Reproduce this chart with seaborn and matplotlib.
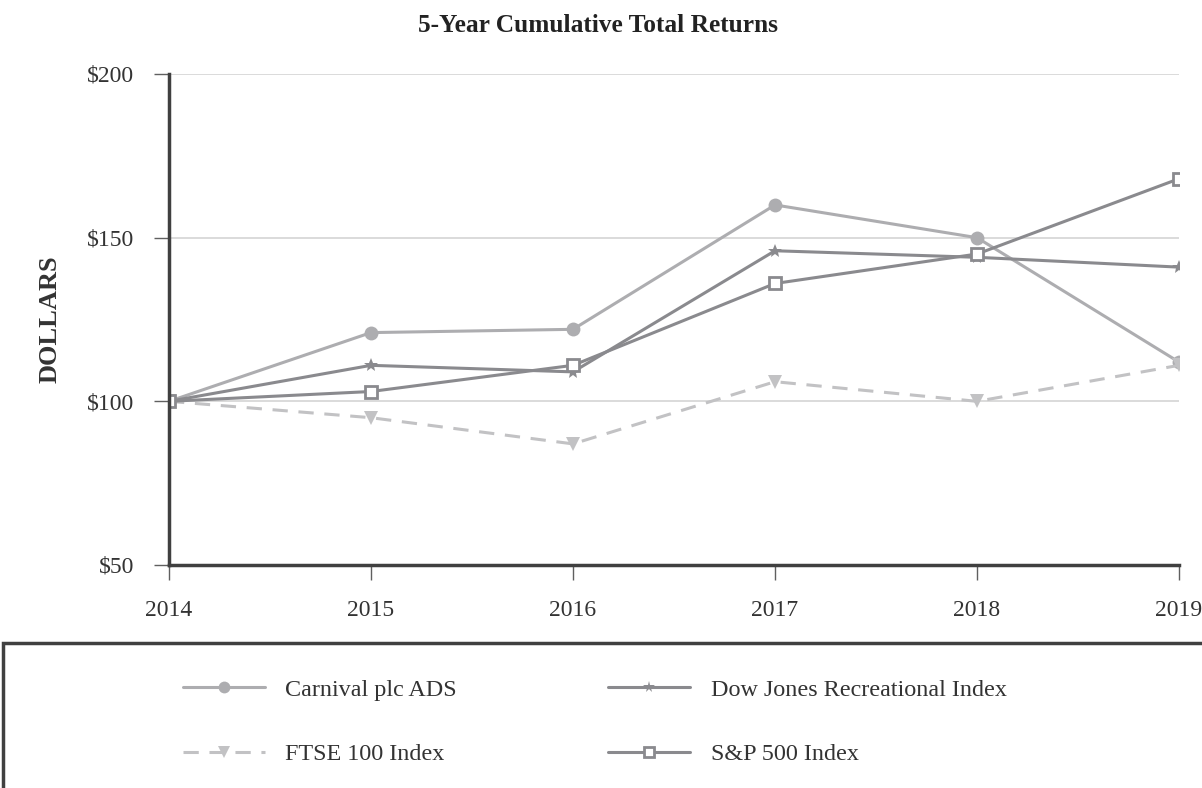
import matplotlib
matplotlib.use("Agg")
import matplotlib.pyplot as plt
import seaborn as sns
import pandas as pd
from matplotlib.patches import Rectangle

years = [2014, 2015, 2016, 2017, 2018, 2019]
carnival = [100, 121, 122, 160, 150, 112]
dow_jones = [100, 111, 109, 146, 144, 141]
ftse = [100, 95, 87, 106, 100, 111]
sp500 = [100, 103, 111, 136, 145, 168]
series_names = ["Carnival plc ADS", "Dow Jones Recreational Index", "FTSE 100 Index", "S&P 500 Index"]
y_ticks = [50, 100, 150, 200]

sns.set_theme(style="white")
plt.rcParams["font.family"] = ["Liberation Serif", "DejaVu Serif"]

rows = []
for name, vals in zip(series_names, [carnival, dow_jones, ftse, sp500]):
    for yr, v in zip(years, vals):
        rows.append({"Year": yr, "Value": v, "Series": name})
df = pd.DataFrame(rows)

palette = {
    "Carnival plc ADS": "#adadb0",
    "Dow Jones Recreational Index": "#8a8a8e",
    "FTSE 100 Index": "#c2c2c4",
    "S&P 500 Index": "#8a8a8e",
}
markers = {
    "Carnival plc ADS": "o",
    "Dow Jones Recreational Index": "*",
    "FTSE 100 Index": "v",
    "S&P 500 Index": "s",
}
dashes = {
    "Carnival plc ADS": "",
    "Dow Jones Recreational Index": "",
    "FTSE 100 Index": (5, 3.5),
    "S&P 500 Index": "",
}

fig = plt.figure(figsize=(12.02, 7.88), dpi=100)
ax = fig.add_axes([169 / 1202, 1 - 565 / 788, (1179 - 169) / 1202, (565 - 74) / 788])

for name in series_names:
    sub = df[df["Series"] == name]
    kw = dict(color=palette[name], marker=markers[name], linewidth=2.2, label=name)
    if name == "S&P 500 Index":
        kw.update(markerfacecolor="white", markeredgecolor=palette[name], markeredgewidth=2, markersize=9)
    elif name == "Dow Jones Recreational Index":
        kw.update(markersize=10, markeredgewidth=0)
    elif name == "FTSE 100 Index":
        kw.update(markersize=10, markeredgewidth=0, dashes=dashes[name])
    else:
        kw.update(markersize=10, markeredgewidth=0)
    sns.lineplot(data=sub, x="Year", y="Value", ax=ax, legend=False, **kw)

ax.set_xlim(2014, 2019)
ax.set_ylim(50, 200)
ax.set_yticks(y_ticks)
ax.set_yticklabels([f"${v}" for v in y_ticks])
ax.set_xticks(years)
ax.set_xticklabels([str(y) for y in years])
ax.yaxis.grid(True, color="#d4d4d4", linewidth=1.2)
ax.xaxis.grid(False)
ax.set_axisbelow(True)
for s in ["top", "right"]:
    ax.spines[s].set_visible(False)
for s in ["left", "bottom"]:
    ax.spines[s].set_color("#404040")
    ax.spines[s].set_linewidth(2.5)
ax.tick_params(axis="both", which="both", direction="out", length=11, width=1, color="#606060",
               labelsize=17, labelcolor="#333333", left=True, bottom=True)
ax.tick_params(axis="x", pad=14)
ax.tick_params(axis="y", pad=14)
ax.set_xlabel("")
ax.set_ylabel("DOLLARS", fontsize=19, fontweight="bold", color="#333333", labelpad=18)
fig.text(598 / 1202, 1 - 26 / 788, "5-Year Cumulative Total Returns",
         ha="center", va="center", fontsize=18.3, fontweight="bold", color="#222222")

# legend frame
rect = Rectangle((3 / 1202, -0.05), 1.1, 1 - 643 / 788 + 0.05, transform=fig.transFigure,
                 fill=False, edgecolor="#404040", linewidth=2.5, clip_on=False)
fig.patches.append(rect)

handles, labels = ax.get_legend_handles_labels()
order = [0, 2, 1, 3]
leg = fig.legend([handles[i] for i in order], [labels[i] for i in order], ncol=2,
                 loc="center left", bbox_to_anchor=(161 / 1202, 1 - 722 / 788),
                 frameon=False, fontsize=17.4, handlelength=3.4, columnspacing=6.25,
                 labelspacing=1.75, handletextpad=0.85, markerscale=0.85)
for t in leg.get_texts():
    t.set_color("#333333")

fig.savefig("out.png", dpi=100)
